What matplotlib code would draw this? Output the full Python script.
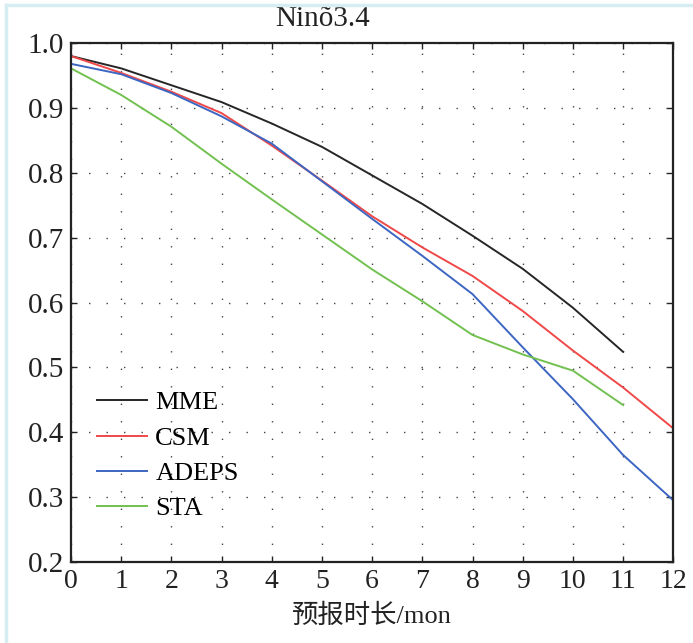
import matplotlib
matplotlib.use("Agg")
import matplotlib.pyplot as plt
from matplotlib.lines import Line2D

plt.rcParams['font.family'] = ['Liberation Serif', 'Noto Sans CJK SC']

# ── data ────────────────────────────────────────────────────────────────────
lead = list(range(13))
mme   = [0.980, 0.961, 0.935, 0.909, 0.876, 0.840, 0.796, 0.752, 0.703, 0.652, 0.592, 0.524]
csm   = [0.980, 0.954, 0.925, 0.892, 0.842, 0.788, 0.733, 0.685, 0.641, 0.587, 0.526, 0.469, 0.406]
adeps = [0.968, 0.952, 0.923, 0.887, 0.845, 0.787, 0.729, 0.672, 0.613, 0.531, 0.451, 0.365, 0.295]
sta   = [0.961, 0.920, 0.871, 0.814, 0.759, 0.705, 0.651, 0.602, 0.550, 0.520, 0.495, 0.442]

series = [("MME", mme, "#262626"), ("CSM", csm, "#f04848"),
          ("ADEPS", adeps, "#3d66c2"), ("STA", sta, "#72c150")]

xticks = list(range(13))
yticks = [0.2, 0.3, 0.4, 0.5, 0.6, 0.7, 0.8, 0.9, 1.0]

# ── figure ──────────────────────────────────────────────────────────────────
fig = plt.figure(figsize=(6.93, 6.43), dpi=100)
ax = fig.add_axes([0.1025, 0.126, 0.869, 0.807])

for name, vals, col in series:
    ax.plot(lead[:len(vals)], vals, color=col, lw=1.4, label=name)

ax.set_xlim(0, 12)
ax.set_ylim(0.2, 1.0)
ax.set_xticks(xticks)
ax.set_yticks(yticks)
ax.set_yticklabels([f"{v:.1f}" for v in yticks])
ax.tick_params(direction="in", length=4, width=1, top=True, right=True,
               labelsize=20, pad=5, colors="#222222")
ax.tick_params(axis="y", labelsize=21)
ax.grid(True, color="#444444", lw=1.0, linestyle=(0, (1, 11.6)))
for s in ax.spines.values():
    s.set_linewidth(1.6)
    s.set_color("#222222")

ax.set_title("Ninõ3.4", fontsize=21, pad=12, color="#222222", x=0.417)
ax.set_xlabel("预报时长/mon", fontsize=19, labelpad=7, color="#222222")

ax.legend(loc="upper left", bbox_to_anchor=(0.026, 0.35), frameon=False,
          borderaxespad=0, fontsize=19, handlelength=1.9, handletextpad=0.3,
          labelspacing=0.45)

# light frame lines at the image edge (left and top)
fig.add_artist(Line2D([6 / 693, 6 / 693], [0, 1 - 5 / 643], transform=fig.transFigure,
                      color="#d6eef1", lw=2.5))
fig.add_artist(Line2D([6 / 693, 1], [1 - 5 / 643, 1 - 5 / 643], transform=fig.transFigure,
                      color="#d6eef1", lw=2.5))

fig.savefig("out.png", dpi=100)
